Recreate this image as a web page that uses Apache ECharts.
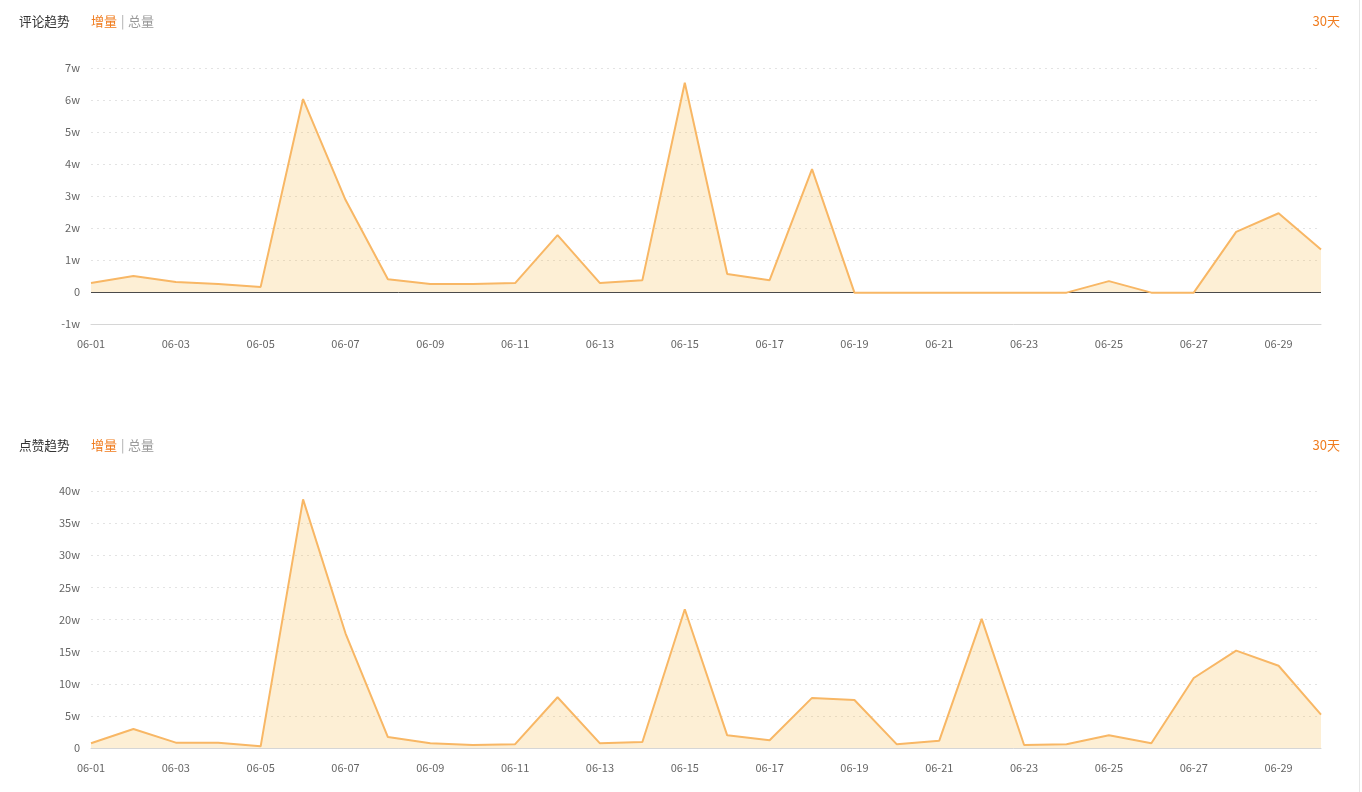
<!DOCTYPE html>
<html>
<head>
<meta charset="utf-8">
<script src="https://cdn.jsdelivr.net/npm/echarts@6/dist/echarts.min.js"></script>
<style>
html,body{margin:0;padding:0;background:#fff;}
#c{width:1362px;height:792px;}
#edge{position:absolute;left:1359px;top:0;width:1px;height:792px;background:#e6e6e6;}
</style>
</head>
<body>
<div id="c"></div>
<div id="edge"></div>
<script>
const dates = ['06-01','06-02','06-03','06-04','06-05','06-06','06-07','06-08','06-09','06-10',
  '06-11','06-12','06-13','06-14','06-15','06-16','06-17','06-18','06-19','06-20',
  '06-21','06-22','06-23','06-24','06-25','06-26','06-27','06-28','06-29','06-30'];
const commentIncrease = [2800, 5000, 3100, 2500, 1600, 60300, 28800, 4000, 2500, 2500,
  2800, 17800, 2800, 3700, 65400, 5600, 3700, 38400, -200, -200,
  -200, -200, -200, -200, 3400, -200, -200, 18800, 24600, 13300];
const likeIncrease = [7300, 29600, 8300, 8300, 2600, 387000, 178500, 17000, 7500, 4500,
  6000, 79000, 7300, 9300, 216000, 19700, 12000, 78000, 74700, 5700,
  11400, 201000, 4700, 5700, 19700, 7300, 109000, 151500, 128000, 52000];
const titles = ['评论趋势', '点赞趋势'];
const modeLabels = ['增量', '总量'];
const rangeLabel = '30天';

const FONT = '"Noto Sans CJK SC", "Noto Sans", sans-serif';
const LINE = '#f8b765';
const AREA = 'rgba(247,178,55,0.3)';
const fmtW = v => v === 0 ? '0' : (v / 10000) + 'w';

function header(y, idx) {
  return [
    {type:'text', left:19, top:y, style:{text: titles[idx], fill:'#333', font:'12.7px ' + FONT}},
    {type:'text', left:91, top:y, style:{text: modeLabels[0], fill:'#f07c1e', font:'13px ' + FONT}},
    {type:'text', left:121, top:y, style:{text: '|', fill:'#aaa', font:'13px ' + FONT}},
    {type:'text', left:128, top:y, style:{text: modeLabels[1], fill:'#999', font:'13px ' + FONT}},
    {type:'text', right:22, top:y, style:{text: rangeLabel, fill:'#f07c1e', font:'13px ' + FONT}}
  ];
}

const xCommon = {
  type:'category', data: dates, boundaryGap:false,
  axisLine:{onZero:false, lineStyle:{color:'#d6d6d6', width:1}},
  axisTick:{show:false},
  axisLabel:{interval:1, color:'#666', fontSize:11, fontFamily:FONT, margin:14}
};
const yCommon = {
  type:'value',
  axisLine:{show:false}, axisTick:{show:false},
  axisLabel:{color:'#666', fontSize:11, fontFamily:FONT, formatter: fmtW, margin:11},
  splitLine:{show:true, lineStyle:{type:[2,4], color:'#e3e3e3'}}
};

const chart = echarts.init(document.getElementById('c'), null, {renderer:'canvas'});
chart.setOption({
  animation:false,
  graphic: header(15, 0).concat(header(439, 1)),
  grid:[
    {left:91, right:41, top:68, height:256},
    {left:91, right:41, top:491, height:257}
  ],
  xAxis:[
    Object.assign({gridIndex:0}, xCommon),
    Object.assign({gridIndex:1}, xCommon)
  ],
  yAxis:[
    Object.assign({gridIndex:0, min:-10000, max:70000, interval:10000}, yCommon),
    Object.assign({gridIndex:1, min:0, max:400000, interval:50000}, yCommon)
  ],
  series:[
    {type:'line', xAxisIndex:0, yAxisIndex:0, data: commentIncrease, symbol:'none',
     lineStyle:{color:LINE, width:2}, areaStyle:{color:AREA}, z:3,
     markLine:{silent:true, symbol:'none', label:{show:false},
       lineStyle:{color:'#4a4a4a', type:'solid', width:1}, data:[{yAxis:0}], z:2}},
    {type:'line', xAxisIndex:1, yAxisIndex:1, data: likeIncrease, symbol:'none',
     lineStyle:{color:LINE, width:2}, areaStyle:{color:AREA}, z:3}
  ]
});
</script>
</body>
</html>
